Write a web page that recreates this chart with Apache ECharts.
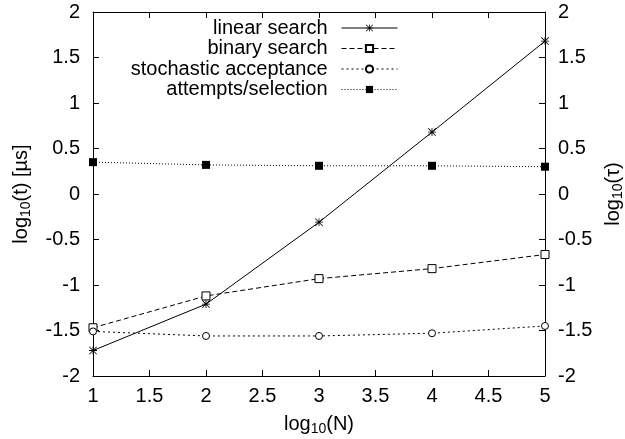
<!DOCTYPE html>
<html>
<head>
<meta charset="utf-8">
<script src="https://cdn.jsdelivr.net/npm/echarts@6/dist/echarts.min.js"></script>
<style>
html,body{margin:0;padding:0;background:#fff;}
#c{width:625px;height:439px;}
</style>
</head>
<body>
<div id="c"></div>
<script>
var xValues = [1, 2, 3, 4, 5];
var linearSearch = [-1.72, -1.21, -0.31, 0.68, 1.68];
var binarySearch = [-1.47, -1.12, -0.93, -0.82, -0.665];
var stochasticAcceptance = [-1.51, -1.56, -1.56, -1.53, -1.45];
var attemptsPerSelection = [0.35, 0.32, 0.31, 0.31, 0.30];
var seriesNames = ['linear search', 'binary search', 'stochastic acceptance', 'attempts/selection'];

function pairs(ys) { return xValues.map(function (x, i) { return [x, ys[i]]; }); }

var FONT = 'Liberation Sans';
var FS = 20;
var asterisk = 'path://M0 4.5L10 4.5L10 5.5L0 5.5Z M4.5 0L5.5 0L5.5 10L4.5 10Z M0 0.7L0.7 0L10 9.3L9.3 10Z M9.3 0L10 0.7L0.7 10L0 9.3Z';

var nameRich = {
  a: { fontSize: FS, fontFamily: FONT, color: '#000' },
  s: { fontSize: 14, fontFamily: FONT, color: '#000', padding: [10, 0, 0, 0] }
};

var chart = echarts.init(document.getElementById('c'), null, { renderer: 'canvas' });
var axisCommon = {
  type: 'value',
  axisLine: { show: true, onZero: false, lineStyle: { color: '#000', width: 1 } },
  axisTick: { show: true, inside: true, length: 6, lineStyle: { color: '#000', width: 1 } },
  splitLine: { show: false },
  axisLabel: { color: '#000', fontSize: FS, fontFamily: FONT, margin: 13 }
};
function ax(extra) { return Object.assign({}, JSON.parse(JSON.stringify(axisCommon)), extra); }

var xBottom = ax({ min: 1, max: 5, interval: 0.5, position: 'bottom',
  name: '{a|log}{s|10}{a|(N)}', nameLocation: 'middle', nameGap: 36,
  nameTextStyle: { rich: nameRich } });
xBottom.axisLabel.margin = 10;

chart.setOption({
  animation: false,
  backgroundColor: '#fff',
  grid: { left: 93, right: 80, top: 12, bottom: 63, containLabel: false, outerBoundsMode: 'none' },
  xAxis: [
    xBottom,
    ax({ min: 1, max: 5, interval: 0.5, position: 'top', axisLabel: { show: false } })
  ],
  yAxis: [
    ax({ min: -2, max: 2, interval: 0.5, position: 'left',
      name: '{a|log}{s|10}{a|(t) [µs]}', nameLocation: 'middle', nameGap: 60, nameRotate: 90,
      nameTextStyle: { rich: nameRich } }),
    ax({ min: -2, max: 2, interval: 0.5, position: 'right',
      name: '{a|log}{s|10}{a|(τ)}', nameLocation: 'middle', nameGap: 56, nameRotate: 90,
      nameTextStyle: { rich: nameRich } })
  ],
  legend: {
    orient: 'vertical', right: 227, top: 18, align: 'right', padding: 0,
    itemWidth: 56, itemHeight: 9, itemGap: 0.5,
    lineStyle: { width: 1 },
    textStyle: { fontSize: FS, fontFamily: FONT, color: '#000', lineHeight: 20, padding: [0, 9, 0, 0] },
    data: seriesNames
  },
  series: [
    { name: seriesNames[0], type: 'line', data: pairs(linearSearch), symbol: asterisk, symbolSize: 8,
      lineStyle: { color: '#000', width: 1, type: 'solid' },
      itemStyle: { color: '#000', borderWidth: 0 } },
    { name: seriesNames[1], type: 'line', data: pairs(binarySearch), symbol: 'rect', symbolSize: 8,
      lineStyle: { color: '#000', width: 1, type: [5, 3] },
      itemStyle: { color: '#fff', borderColor: '#000', borderWidth: 1 } },
    { name: seriesNames[2], type: 'line', data: pairs(stochasticAcceptance), symbol: 'circle', symbolSize: 7,
      lineStyle: { color: '#000', width: 1, type: [2, 3] },
      itemStyle: { color: '#fff', borderColor: '#000', borderWidth: 1 } },
    { name: seriesNames[3], type: 'line', data: pairs(attemptsPerSelection), symbol: 'rect', symbolSize: 8,
      lineStyle: { color: '#000', width: 1, type: [1, 2] },
      itemStyle: { color: '#000', borderWidth: 0 } }
  ]
});
</script>
</body>
</html>
